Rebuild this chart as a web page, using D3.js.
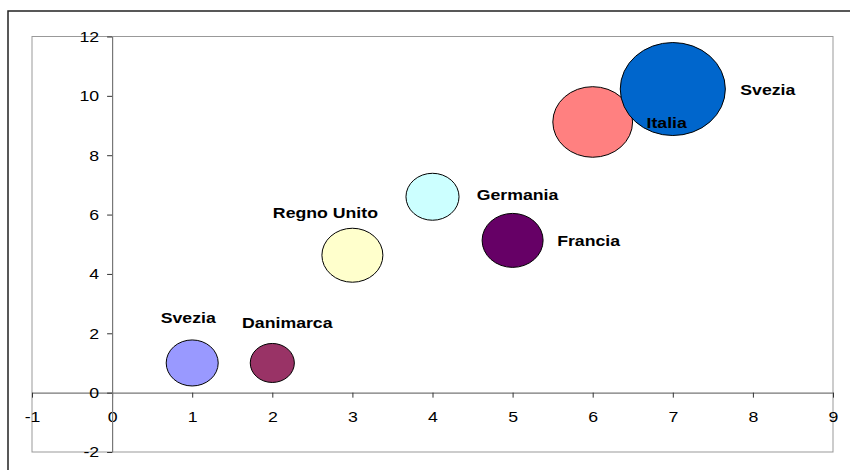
<!DOCTYPE html>
<html>
<head>
<meta charset="utf-8">
<script src="https://cdn.jsdelivr.net/npm/d3@7"></script>
<style>
  html, body { margin: 0; padding: 0; background: #fff; }
  svg { display: block; }
  .tick text { font-family: "Liberation Sans", Arial, sans-serif; font-size: 15px; fill: #000; }
  .lbl { font-family: "Liberation Sans", Arial, sans-serif; font-weight: bold; font-size: 15px; fill: #000; }
</style>
</head>
<body>
<script>
// ---- data ----
const countries = ["Svezia", "Danimarca", "Regno Unito", "Germania", "Francia", "Italia", "Svezia"];
const xValues   = [1, 2, 3, 4, 5, 6, 7];
const yValues   = [1.0, 1.0, 4.63, 6.6, 5.13, 9.12, 10.23];
const sizes     = [24.5, 17.6, 33.7, 25.5, 33.7, 57.6, 100];
const colors    = ["#9999FF", "#993366", "#FFFFCC", "#CCFFFF", "#660066", "#FF8080", "#0066CC"];
const xTicks    = [-1, 0, 1, 2, 3, 4, 5, 6, 7, 8, 9];
const yTicks    = [-2, 0, 2, 4, 6, 8, 10, 12];
// label placement (pixel offsets from bubble centre: dx, baseline dy)
const labelDx   = [-4, 15, -27, 85, 76, 74, 95];
const labelDy   = [-40, -35, -37, 3, 6, 6, 6];

// ---- layout ----
const W = 850, H = 470;
const plot = { left: 32, right: 833, top: 36.5, bottom: 452 };
const aspect = 1.13;   // bubbles are drawn slightly wider than tall
const stretch = 1.18;  // text is horizontally stretched in the original

const svg = d3.select("body").append("svg").attr("width", W).attr("height", H);

// outer chart border
svg.append("rect")
  .attr("x", 8).attr("y", 11).attr("width", 900).attr("height", 500)
  .attr("fill", "none").attr("stroke", "#222").attr("stroke-width", 1.5);

const x = d3.scaleLinear().domain([-1, 9]).range([plot.left, plot.right]);
const y = d3.scaleLinear().domain([-2, 12]).range([plot.bottom, plot.top]);
const r = d3.scaleSqrt().domain([0, 100]).range([0, 46.5]);

// plot area border
svg.append("rect")
  .attr("x", plot.left).attr("y", plot.top)
  .attr("width", plot.right - plot.left).attr("height", plot.bottom - plot.top)
  .attr("fill", "none").attr("stroke", "#999").attr("stroke-width", 1);

// axes crossing at 0
const fmt = d => d3.format("d")(d).replace("\u2212", "-");
const xAxis = svg.append("g")
  .attr("transform", `translate(0,${y(0)})`)
  .call(d3.axisBottom(x).tickValues(xTicks).tickSize(5).tickSizeOuter(0).tickPadding(14).tickFormat(fmt));
const yAxis = svg.append("g")
  .attr("transform", `translate(${x(0)},0)`)
  .call(d3.axisLeft(y).tickValues(yTicks).tickSize(5).tickSizeOuter(0).tickPadding(8).tickFormat(fmt));

[xAxis, yAxis].forEach(g => {
  g.select(".domain").attr("stroke", "#777").attr("stroke-width", 1.2);
  g.selectAll(".tick line").attr("stroke", "#333");
  g.selectAll(".tick text").attr("fill", "#000").each(function () {
    const t = d3.select(this);
    const tx = +t.attr("x") || 0;
    t.attr("transform", `translate(${tx},0) scale(${stretch},1) translate(${-tx},0)`);
  });
});

// bubbles
const data = countries.map((c, i) => ({
  name: c, x: xValues[i], y: yValues[i], s: sizes[i], color: colors[i],
  dx: labelDx[i], dy: labelDy[i]
}));

svg.append("g").selectAll("ellipse").data(data).join("ellipse")
  .attr("cx", d => x(d.x))
  .attr("cy", d => y(d.y))
  .attr("rx", d => r(d.s) * aspect)
  .attr("ry", d => r(d.s))
  .attr("fill", d => d.color)
  .attr("stroke", "#000").attr("stroke-width", 1);

// labels
svg.append("g").selectAll("text").data(data).join("text")
  .attr("class", "lbl")
  .attr("transform", d => `translate(${x(d.x) + d.dx},${y(d.y) + d.dy}) scale(${stretch},1)`)
  .attr("text-anchor", "middle")
  .text(d => d.name);
</script>
</body>
</html>
